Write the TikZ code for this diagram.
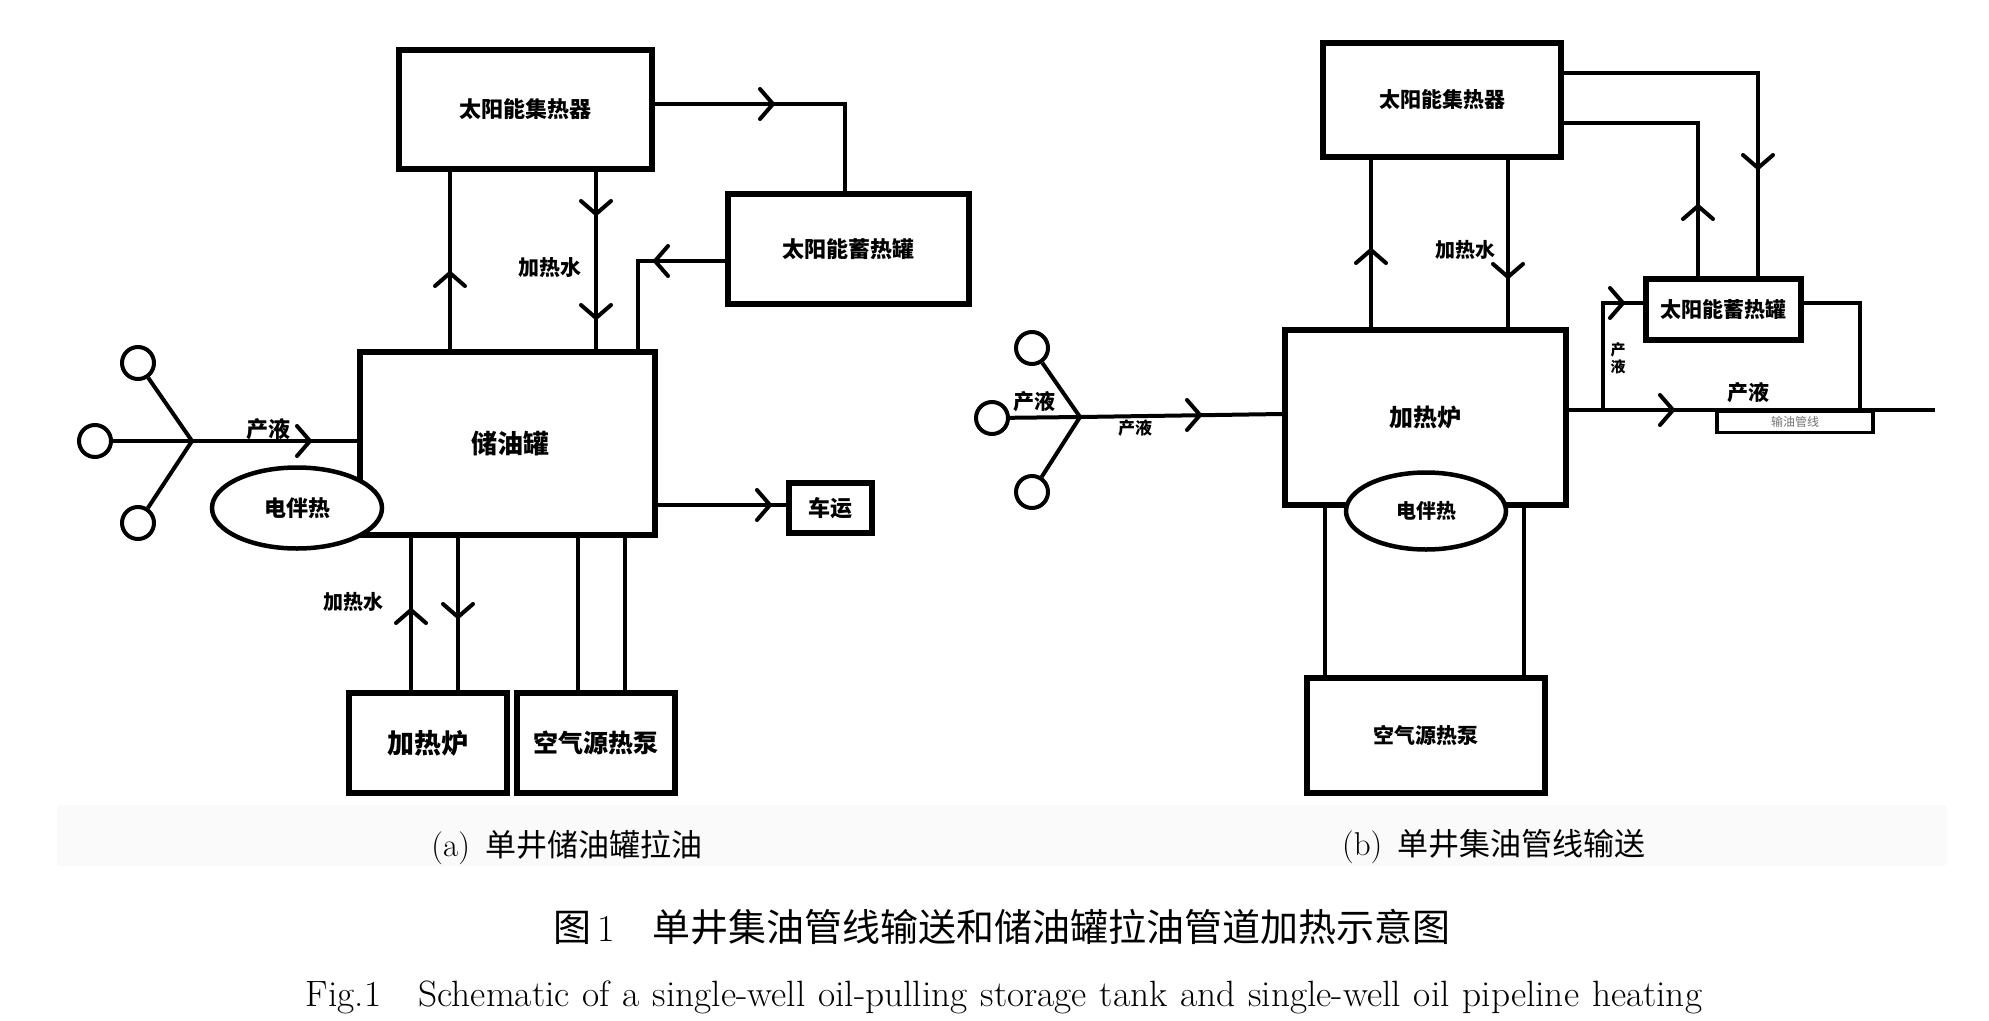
\documentclass[tikz,border=0pt]{standalone}
\usepackage{fontspec}
\newfontfamily\cjk{Noto Sans CJK SC}
\usetikzlibrary{shapes.geometric,calc}
\begin{document}
\begin{tikzpicture}[x=1pt,y=-1pt,
  fs/.style={font=\cjk\bfseries\fontsize{#1}{#1}\selectfont},
  bx/.style={draw, line width=5.5pt, inner sep=0pt, fill=white},
  ln/.style={line width=4pt},
  thinln/.style={line width=3.5pt},
  wl/.style={circle, draw, line width=4pt, minimum size=32pt, inner sep=0pt},
  lbl/.style={inner sep=0pt},
  eh/.style={ellipse, draw, fill=white, line width=4.5pt, inner sep=0pt},
  chev/.pic={\draw[line width=4pt, line cap=round, line join=round] (-13,-15) -- (0,0) -- (-13,15);}
]
\useasboundingbox (0,0) rectangle (1989,1020);
\fill[white] (0,0) rectangle (1989,1020);

% ================= panel (a) =================
\node[bx, fs=22, minimum width=253pt, minimum height=119pt] (colA) at (525.5,109.5) {太阳能集热器};
\node[bx, fs=22, minimum width=241pt, minimum height=110pt] (stoA) at (848.5,249) {太阳能蓄热罐};
\node[bx, fs=26, minimum width=295pt, minimum height=183pt] (tankA) at (507.5,443.5) {};
\node[lbl, fs=26] at (510,444) {储油罐};
\node[bx, fs=22, minimum width=83pt, minimum height=50pt] (carA) at (830.5,508) {车运};
\node[bx, fs=27, minimum width=158pt, minimum height=100pt] (furA) at (428,743) {加热炉};
\node[bx, fs=25, minimum width=158pt, minimum height=100pt] (hpA) at (596,743) {空气源热泵};

% collector <-> tank
\draw[ln] (450,0 |- tankA.north) -- (450,0 |- colA.south);
\pic[rotate=90] at (450,273) {chev};
\draw[ln] (596,0 |- colA.south) -- (596,0 |- tankA.north);
\pic[rotate=-90] at (596,214) {chev};
\pic[rotate=-90] at (596,318) {chev};
\node[lbl, fs=21] at (550,268) {加热水};
% collector -> storage -> tank
\draw[ln] (colA.east |- 0,104) -| (845,0 |- stoA.north);
\pic at (773,104) {chev};
\draw[ln] (stoA.west |- 0,261) -| (638,0 |- tankA.north);
\pic[rotate=180] at (655,261) {chev};
% tank -> car
\draw[ln] (tankA.east |- 0,505) -- (carA.west |- 0,505);
\pic at (770,505) {chev};
% tank <-> furnace, heat pump
\draw[ln] (411,0 |- tankA.south) -- (411,0 |- furA.north);
\pic[rotate=90] at (411,610) {chev};
\draw[ln] (458,0 |- tankA.south) -- (458,0 |- furA.north);
\pic[rotate=-90] at (458,617) {chev};
\node[lbl, fs=20] at (353,602) {加热水};
\draw[ln] (578,0 |- tankA.south) -- (578,0 |- hpA.north);
\draw[ln] (625,0 |- tankA.south) -- (625,0 |- hpA.north);
% wells
\node[wl] (wa1) at (138,363) {};
\node[wl] (wa2) at (95,441) {};
\node[wl] (wa3) at (138,523) {};
\coordinate (ja) at (192,441);
\draw[ln] (wa1) -- (ja);
\draw[ln] (wa2) -- (ja);
\draw[ln] (wa3) -- (ja);
\draw[ln] (ja) -- (tankA.west |- ja);
\pic at (310,441) {chev};
\node[lbl, fs=22] at (268,429) {产液};
\node[eh, fs=22, minimum width=170pt, minimum height=81pt] (ehA) at (297,508) {电伴热};

% ================= panel (b) =================
\node[bx, fs=21, minimum width=238pt, minimum height=114pt] (colB) at (1442,100) {太阳能集热器};
\node[bx, fs=24, minimum width=281pt, minimum height=175pt] (furB) at (1425.5,417.5) {加热炉};
\node[bx, fs=21, minimum width=238pt, minimum height=115pt] (hpB) at (1426,735.5) {空气源热泵};
\node[bx, fs=21, minimum width=155pt, minimum height=61pt] (stoB) at (1723.5,309.5) {太阳能蓄热罐};

% furnace <-> collector
\draw[thinln] (1371,0 |- furB.north) -- (1371,0 |- colB.south);
\pic[rotate=90] at (1371,250) {chev};
\draw[thinln] (1508,0 |- colB.south) -- (1508,0 |- furB.north);
\pic[rotate=-90] at (1508,277) {chev};
\node[lbl, fs=20] at (1465,250) {加热水};
% collector <-> storage
\draw[thinln] (colB.east |- 0,73) -| (1758,0 |- stoB.north);
\pic[rotate=-90] at (1758,168) {chev};
\draw[thinln] (colB.east |- 0,123) -| (1698,0 |- stoB.north);
\pic[rotate=90] at (1698,206) {chev};
% pipeline
\coordinate (pend) at (1935,410);
\draw[ln] (furB.east |- pend) -- (pend);
\pic at (1673,410) {chev};
\node[draw, line width=3.5pt, fill=white, minimum width=156pt, minimum height=21pt, inner sep=0pt,
      font=\cjk\fontsize{12}{12}\selectfont, text=black!55] (pipeB) at (1795,422) {输油管线};
\draw[ln] (pipeB.north west) -- (pipeB.north east);
\node[lbl, fs=21] at (1748,393) {产液};
% storage loop
\coordinate (brk) at (1603,410);
\draw[ln] (brk) |- (stoB.west |- 0,303);
\pic at (1623,303) {chev};
\draw[ln] (stoB.east |- 0,303) -| (1860,0 |- pend);
\node[lbl, fs=15, align=center] at (1618,358) {产\\[2pt]液};
% furnace <-> heat pump
\draw[thinln] (1325,0 |- furB.south) -- (1325,0 |- hpB.north);
\draw[thinln] (1524,0 |- furB.south) -- (1524,0 |- hpB.north);
% wells
\node[wl] (wb1) at (1032,348) {};
\node[wl] (wb2) at (992,418) {};
\node[wl] (wb3) at (1032,492) {};
\coordinate (jb) at (1080,417);
\draw[ln] (wb1) -- (jb);
\draw[ln] (wb2) -- (jb);
\draw[ln] (wb3) -- (jb);
\draw[ln] (jb) -- (furB.west |- 0,414);
\pic at (1200,415) {chev};
\node[lbl, fs=21] at (1034,402) {产液};
\node[lbl, fs=17] at (1135,428) {产液};
\node[eh, fs=20, minimum width=160pt, minimum height=77pt] (ehB) at (1426,511) {电伴热};

% ================= captions =================
\fill[black!2, rounded corners=4pt] (57,805) rectangle (1947,866);
\node[inner sep=0pt, font=\fontsize{31}{31}\selectfont] (capa) at (567,847) {{\fontsize{33}{33}\selectfont(a)}\hspace{0.5em}{\cjk 单井储油罐拉油}};
\node[inner sep=0pt, font=\fontsize{31}{31}\selectfont] (capb) at (1494,847) {{\fontsize{33}{33}\selectfont(b)}\hspace{0.5em}{\cjk 单井集油管线输送}};
\node[inner sep=0pt, font=\fontsize{38}{38}\selectfont] (cap1) at (1002,927) {{\cjk 图}\,1\hspace{1em}{\cjk 单井集油管线输送和储油罐拉油管道加热示意图}};
\node[inner sep=0pt] (cap2) at (1004,997) {\scalebox{1.02}[1]{\fontsize{36.6}{36.6}\selectfont\makebox[1369pt][s]{Fig.1\hspace{1em}Schematic of a single-well oil-pulling storage tank and single-well oil pipeline heating}}};
\end{tikzpicture}
\end{document}
